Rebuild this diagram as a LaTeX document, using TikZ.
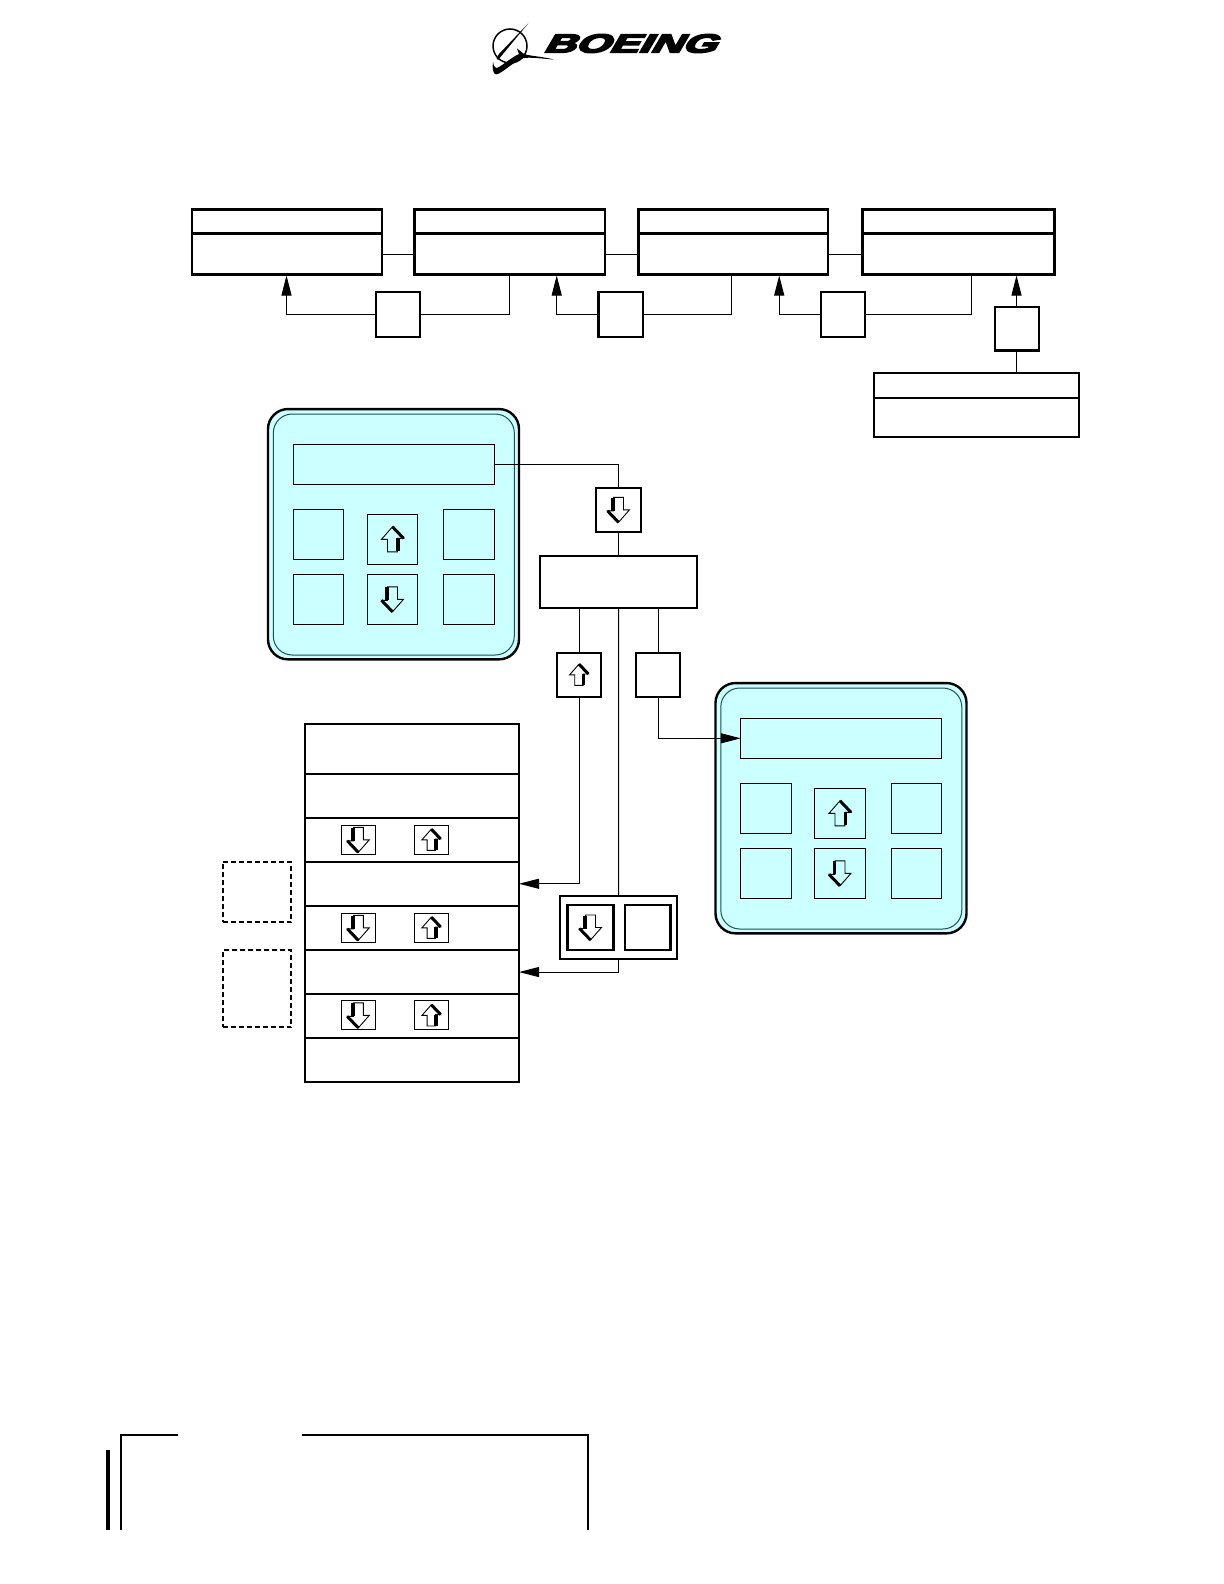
\documentclass[tikz,border=0pt]{standalone}
\usepackage{fontspec}
\usepackage{xcolor}
\usepackage{tikz}
\usetikzlibrary{positioning,arrows.meta}
\newfontfamily\logofont[FakeBold=6,FakeSlant=0.35]{Liberation Sans Bold}
\definecolor{panelCyan}{HTML}{CCFFFF}
\definecolor{panelEdge}{HTML}{1F4F4F}

\begin{document}
\begin{tikzpicture}[
  x=1pt, y=-1pt,
  every node/.style={inner sep=0pt, outer sep=0pt, rectangle},
  titlebox/.style={draw, line width=2.6pt},
  thinbox/.style={draw, line width=1.8pt},
  smallbox/.style={draw, line width=2.2pt, minimum width=44.3pt, minimum height=44.3pt},
  panelouter/.style={draw, line width=2.4pt, fill=panelCyan, rounded corners=20pt,
             minimum width=251pt, minimum height=250.3pt},
  panelinner/.style={draw=panelEdge, line width=1pt, rounded corners=19pt,
             minimum width=241pt, minimum height=241pt},
  display/.style={draw, line width=1pt, minimum width=201pt, minimum height=40pt},
  keybtn/.style={draw, line width=1pt, minimum width=50.4pt, minimum height=50pt},
  tablerow/.style={draw, line width=2pt, minimum width=214pt},
  tablebtn/.style={draw, line width=1pt, minimum width=34pt, minimum height=29pt},
  dashbox/.style={draw, line width=1.8pt, dash pattern=on 5pt off 3pt, minimum width=68.6pt},
  conn/.style={line width=1pt},
  flow/.style={line width=1pt, -{Triangle[length=20pt,width=10pt]}},
  frame/.style={line width=1.8pt, line join=miter},
  uparr/.pic={
    \draw[line width=0.9pt] (0,-12.5) -- (11,-1) -- (5,-1) -- (5,12.5) -- (-5,12.5)
      -- (-5,0) -- (-11,0) -- cycle;
    \draw[line width=3pt] (0,-12.5) -- (11,-1);
    \draw[line width=3.4pt] (5.5,-1) -- (5.5,12);
  },
  dnarr/.pic={\pic[rotate=180] {uparr};},
]
\useasboundingbox (0,0) rectangle (1223,1584);

% Logo
\draw[line width=1.5pt] (510,46) circle (17);
\fill (528.3,23.3) -- (499,54) .. controls (496,58) and (496,60) .. (498,60) -- (503,54) -- cycle;
\fill (493,62) .. controls (492,68) and (493,74) .. (496,74.5)
  .. controls (503,73) and (510,64) .. (523,58)
  .. controls (532,57) and (545,59) .. (554,59.5)
  .. controls (542,56.5) and (530,56) .. (524,54) -- (517,48.5) -- (519,54)
  .. controls (510,58) and (500,68) .. (496,68)
  .. controls (494,67) and (493.5,65) .. (493,62) -- cycle;
\node[font=\logofont\fontsize{26}{26}\selectfont] (logo) at (629,43.5) {\scalebox{1.68}[1]{BOEING}};

% Top row
\node[titlebox, minimum width=190pt, minimum height=24.4pt] (headA) at (287,221.5) {};
\node[titlebox, minimum width=190pt, minimum height=41pt, below=0pt of headA] (bodyA) {};
\node[titlebox, minimum width=190.7pt, minimum height=24.4pt] (headB) at (509.65,221.5) {};
\node[titlebox, minimum width=190.7pt, minimum height=41pt, below=0pt of headB] (bodyB) {};
\node[titlebox, minimum width=189.7pt, minimum height=24.4pt] (headC) at (733.15,221.5) {};
\node[titlebox, minimum width=189.7pt, minimum height=41pt, below=0pt of headC] (bodyC) {};
\node[titlebox, minimum width=192pt, minimum height=24.4pt] (headD) at (958.45,221.5) {};
\node[titlebox, minimum width=192pt, minimum height=41pt, below=0pt of headD] (bodyD) {};
\node[thinbox, minimum width=205pt, minimum height=25.3pt] (headE) at (976.15,385.35) {};
\node[thinbox, minimum width=205pt, minimum height=39.3pt, below=0pt of headE] (bodyE) {};

\node[smallbox] (smallA) at (398,314.5) {};
\node[smallbox] (smallB) at (620.7,314.5) {};
\node[smallbox] (smallC) at (842.8,314.5) {};
\node[smallbox, minimum height=43.5pt] (smallD) at (1017,328.7) {};

\coordinate (inA) at (286.5,275.5);
\coordinate (inB) at (556.7,275.5);
\coordinate (inC) at (779.2,275.5);
\coordinate (inD) at (1016.5,275.5);
\coordinate (outB) at (509.7,274.7);
\coordinate (outC) at (731,274.7);
\coordinate (outD) at (971.6,274.7);

\draw[conn] (bodyA.east) -- (bodyB.west);
\draw[conn] (bodyB.east) -- (bodyC.west);
\draw[conn] (bodyC.east) -- (bodyD.west);
\draw[flow] (smallA.west) -| (inA);
\draw[flow] (smallB.west) -| (inB);
\draw[flow] (smallC.west) -| (inC);
\draw[flow] (smallD.north -| inD) -- (inD);
\draw[conn] (smallA.east) -| (outB);
\draw[conn] (smallB.east) -| (outC);
\draw[conn] (smallC.east) -| (outD);
\draw[conn] (smallD.south -| inD) -- (inD |- headE.north);

% Panel 1
\node[panelouter] (panelA) at (393.5,534.2) {};
\node[panelinner] (innerA) at (393.8,534.5) {};
\node[display] (dispA) at (393.8,464.3) {};
\node[keybtn] (keyAa) at (318.5,534.3) {};
\node[keybtn] (keyAb) at (318.5,599.3) {};
\node[keybtn] (keyAup) at (392.5,539.3) {};
\node[keybtn] (keyAdn) at (392.5,599.3) {};
\node[keybtn] (keyAc) at (468.8,534.3) {};
\node[keybtn] (keyAd) at (468.8,599.3) {};
\pic at (keyAup.center) {uparr};
\pic at (keyAdn.center) {dnarr};

% Panel 2
\node[panelouter] (panelB) at (841,808.2) {};
\node[panelinner] (innerB) at (841.3,808.5) {};
\node[display] (dispB) at (841.3,738.3) {};
\node[keybtn] (keyBa) at (766,808.3) {};
\node[keybtn] (keyBb) at (766,873.3) {};
\node[keybtn] (keyBup) at (840,813.3) {};
\node[keybtn] (keyBdn) at (840,873.3) {};
\node[keybtn] (keyBc) at (916.3,808.3) {};
\node[keybtn] (keyBd) at (916.3,873.3) {};
\pic at (keyBup.center) {uparr};
\pic at (keyBdn.center) {dnarr};

% Middle boxes
\node[smallbox] (downbox) at (618.5,509.8) {};
\node[thinbox, line width=2pt, minimum width=157pt, minimum height=51.7pt] (bigbox) at (618.5,581.8) {};
\node[smallbox] (upbox) at (579,674.8) {};
\node[smallbox] (emptybox) at (658.2,674.8) {};
\node[thinbox, line width=2pt, minimum width=117.3pt, minimum height=62.7pt] (groupbox) at (618.65,927.3) {};
\node[smallbox, line width=2.6pt, minimum width=45.6pt, minimum height=45pt] (groupdown) at (590.5,927.5) {};
\node[smallbox, line width=2.6pt, minimum width=45.6pt, minimum height=45pt] (groupempty) at (647.8,927.5) {};
\pic[scale=0.85] at (downbox.center) {dnarr};
\pic[scale=0.85] at (upbox.center) {uparr};
\pic[scale=0.85] at (groupdown.center) {dnarr};

% Table
\node[tablerow, minimum height=49.3pt] (rowa) at (412,749) {};
\node[tablerow, minimum height=44.4pt, below=0pt of rowa] (rowb) {};
\node[tablerow, minimum height=43.7pt, below=0pt of rowb] (rowc) {};
\node[tablerow, minimum height=44pt, below=0pt of rowc] (rowd) {};
\node[tablerow, minimum height=44.3pt, below=0pt of rowd] (rowe) {};
\node[tablerow, minimum height=44pt, below=0pt of rowe] (rowf) {};
\node[tablerow, minimum height=44.3pt, below=0pt of rowf] (rowg) {};
\node[tablerow, minimum height=43.4pt, below=0pt of rowg] (rowh) {};

\node[tablebtn] (downc) at (358.3,839.8) {};
\node[tablebtn] (upc) at (431.3,839.8) {};
\node[tablebtn] (downe) at (358.3,927.8) {};
\node[tablebtn] (upe) at (431.3,927.8) {};
\node[tablebtn] (downg) at (358.3,1015.4) {};
\node[tablebtn] (upg) at (431.3,1015.4) {};
\pic[scale=0.85] at (downc.center) {dnarr};
\pic[scale=0.85] at (upc.center) {uparr};
\pic[scale=0.85] at (downe.center) {dnarr};
\pic[scale=0.85] at (upe.center) {uparr};
\pic[scale=0.85] at (downg.center) {dnarr};
\pic[scale=0.85] at (upg.center) {uparr};

\node[dashbox, minimum height=60.3pt] (dashd) at (257,891.8) {};
\node[dashbox, minimum height=77pt] (dashf) at (257,988.5) {};

% Connectors
\draw[conn] (dispA.east) -| (downbox.north);
\draw[conn] (downbox.south) -- (bigbox.north);
\draw[conn] (upbox.north) -- (upbox.north |- bigbox.south);
\draw[conn] (emptybox.north) -- (emptybox.north |- bigbox.south);
\draw[conn] (bigbox.south) -- (groupbox.north);
\draw[flow] (emptybox.south) |- (dispB.west);
\draw[flow] (upbox.south) |- (rowd.east);
\draw[flow] (groupbox.south) |- (rowf.east);

% Footer frame
\draw[frame] (178,1435) -- (121,1435) -- (121,1529.5);
\draw[frame] (302,1435) -- (588,1435) -- (588,1529.5);
\fill (106,1450) rectangle (110,1529.5);

\end{tikzpicture}
\end{document}
